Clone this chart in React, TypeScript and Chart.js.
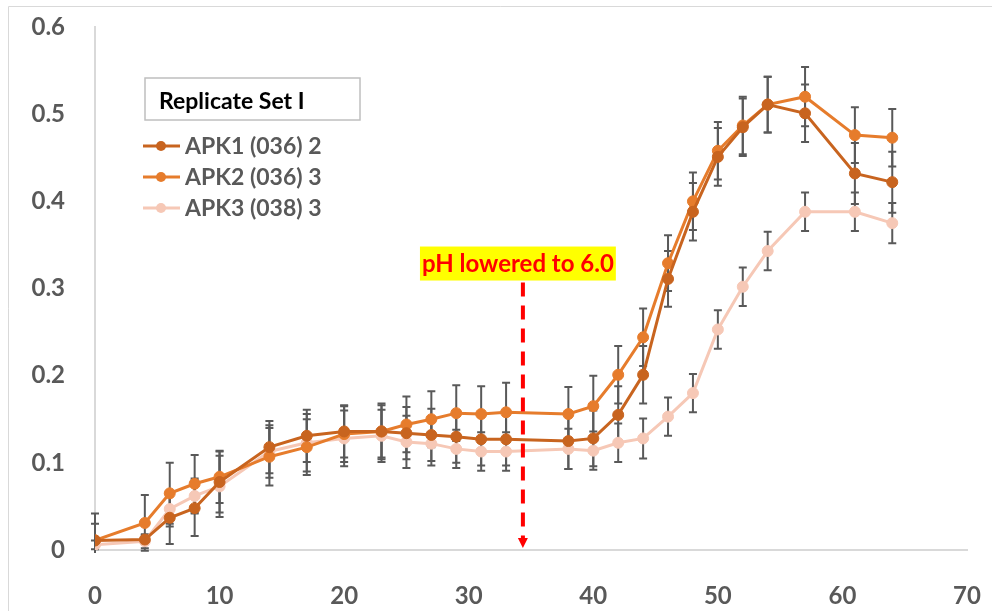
import React, { useEffect, useRef } from "react";
import { Chart, registerables } from "chart.js";

Chart.register(...registerables);

const times = [0, 4, 6, 8, 10, 14, 17, 20, 23, 25, 27, 29, 31, 33, 38, 40, 42, 44, 46, 48, 50, 52, 54, 57, 61, 64];
const apk1 = [0.011, 0.012, 0.037, 0.048, 0.078, 0.118, 0.131, 0.136, 0.136, 0.134, 0.132, 0.130, 0.127, 0.127, 0.125, 0.128, 0.155, 0.201, 0.311, 0.388, 0.451, 0.485, 0.511, 0.501, 0.432, 0.422];
const apk2 = [0.011, 0.031, 0.065, 0.076, 0.084, 0.107, 0.118, 0.133, 0.136, 0.144, 0.150, 0.157, 0.156, 0.158, 0.156, 0.165, 0.201, 0.244, 0.329, 0.400, 0.458, 0.487, 0.511, 0.520, 0.476, 0.473];
const apk3 = [0.006, 0.010, 0.047, 0.062, 0.073, 0.113, 0.123, 0.128, 0.131, 0.124, 0.122, 0.116, 0.113, 0.113, 0.116, 0.114, 0.123, 0.128, 0.153, 0.180, 0.253, 0.302, 0.343, 0.388, 0.388, 0.375];
const apk1Err = [0.031, 0.005, 0.03, 0.032, 0.035, 0.03, 0.03, 0.03, 0.03, 0.03, 0.03, 0.03, 0.03, 0.03, 0.032, 0.032, 0.033, 0.033, 0.032, 0.033, 0.033, 0.033, 0.032, 0.033, 0.035, 0.035];
const apk2Err = [0.019, 0.032, 0.035, 0.033, 0.03, 0.033, 0.032, 0.032, 0.032, 0.032, 0.032, 0.032, 0.032, 0.034, 0.031, 0.035, 0.033, 0.033, 0.032, 0.033, 0.033, 0.033, 0.032, 0.034, 0.032, 0.033];
const apk3Err = [0.005, 0.008, 0.02, 0.02, 0.035, 0.03, 0.033, 0.032, 0.03, 0.03, 0.025, 0.022, 0.022, 0.022, 0.023, 0.022, 0.022, 0.023, 0.022, 0.022, 0.022, 0.022, 0.022, 0.022, 0.022, 0.023];

const seriesNames = ["APK1 (036) 2", "APK2 (036) 3", "APK3 (038) 3"];
const seriesColors = ["#C8641F", "#E67C2C", "#F6C8B6"];
const legendTitle = "Replicate Set I";
const annotationText = "pH lowered to 6.0";
const annotationX = 34.35;
const annotationTop = 0.308;

const xTicks = { min: 0, max: 70, step: 10 };
const yTicks = { min: 0, max: 0.6, step: 0.1 };

const FONT = "Lato, 'Open Sans', sans-serif";
const values = [apk1, apk2, apk3];
const errors = [apk1Err, apk2Err, apk3Err];

const errorBarPlugin = {
  id: "errorBars",
  beforeDatasetsDraw(chart: any) {
    const { ctx, scales, chartArea } = chart;
    const x = scales.x;
    const y = scales.y;
    ctx.save();
    ctx.beginPath();
    ctx.rect(0, chartArea.top - 10, chart.width, chartArea.bottom - chartArea.top + 13);
    ctx.clip();
    ctx.strokeStyle = "#595959";
    ctx.lineWidth = 2;
    values.forEach((vals, di) => {
      vals.forEach((v, i) => {
        const e = errors[di][i];
        const px = x.getPixelForValue(times[i]);
        const top = y.getPixelForValue(v + e);
        const bot = y.getPixelForValue(v - e);
        ctx.beginPath();
        ctx.moveTo(px, top);
        ctx.lineTo(px, bot);
        ctx.moveTo(px - 4, top);
        ctx.lineTo(px + 4, top);
        ctx.moveTo(px - 4, bot);
        ctx.lineTo(px + 4, bot);
        ctx.stroke();
      });
    });
    ctx.restore();
  },
};

const decorPlugin = {
  id: "decor",
  afterDraw(chart: any) {
    const { ctx, scales, chartArea } = chart;
    const x = scales.x;
    const y = scales.y;
    ctx.save();
    // outer frame
    ctx.strokeStyle = "#d9d9d9";
    ctx.lineWidth = 1;
    ctx.beginPath();
    ctx.moveTo(8.5, chart.height);
    ctx.lineTo(8.5, 6.5);
    ctx.lineTo(chart.width, 6.5);
    ctx.stroke();

    // legend title box
    const L = chartArea.left;
    const T = chartArea.top;
    ctx.strokeStyle = "#bfbfbf";
    ctx.lineWidth = 1.5;
    ctx.fillStyle = "#ffffff";
    ctx.fillRect(L + 50, T + 51, 215, 42);
    ctx.strokeRect(L + 50, T + 51, 215, 42);
    ctx.fillStyle = "#000000";
    ctx.font = `bold 23px ${FONT}`;
    ctx.textBaseline = "middle";
    ctx.textAlign = "left";
    ctx.fillText(legendTitle, L + 64, T + 75);

    // legend entries
    seriesNames.forEach((name, i) => {
      const cy = T + 119 + i * 31;
      ctx.strokeStyle = seriesColors[i];
      ctx.lineWidth = 3;
      ctx.beginPath();
      ctx.moveTo(L + 48, cy);
      ctx.lineTo(L + 85, cy);
      ctx.stroke();
      ctx.fillStyle = seriesColors[i];
      ctx.beginPath();
      ctx.arc(L + 66, cy, 5, 0, Math.PI * 2);
      ctx.fill();
      ctx.fillStyle = "#595959";
      ctx.font = `bold 23px ${FONT}`;
      ctx.fillText(name, L + 90, cy + 1);
    });

    // annotation
    const ax = x.getPixelForValue(annotationX);
    const ay = y.getPixelForValue(annotationTop);
    const ay0 = y.getPixelForValue(0);
    ctx.font = `bold 24px ${FONT}`;
    const tw = ctx.measureText(annotationText).width;
    const cx = ax - 5;
    ctx.fillStyle = "#ffff00";
    ctx.fillRect(cx - tw / 2 - 2, ay - 35, tw + 4, 34);
    ctx.fillStyle = "#ff0000";
    ctx.textAlign = "center";
    ctx.fillText(annotationText, cx, ay - 17);

    ctx.strokeStyle = "#ff0000";
    ctx.lineWidth = 4;
    ctx.setLineDash([14, 9]);
    ctx.beginPath();
    ctx.moveTo(ax, ay + 1);
    ctx.lineTo(ax, ay0 - 10);
    ctx.stroke();
    ctx.setLineDash([]);
    ctx.fillStyle = "#ff0000";
    ctx.beginPath();
    ctx.moveTo(ax - 5, ay0 - 12);
    ctx.lineTo(ax + 5, ay0 - 12);
    ctx.lineTo(ax, ay0 - 2);
    ctx.closePath();
    ctx.fill();
    ctx.restore();
  },
};

export default function App() {
  const ref = useRef<HTMLCanvasElement | null>(null);
  useEffect(() => {
    if (!ref.current) return;
    const chart = new Chart(ref.current, {
      type: "line",
      data: {
        datasets: values.map((vals, i) => ({
          label: seriesNames[i],
          data: vals.map((v, j) => ({ x: times[j], y: v })),
          borderColor: seriesColors[i],
          backgroundColor: seriesColors[i],
          pointBackgroundColor: seriesColors[i],
          pointBorderColor: seriesColors[i],
          borderWidth: 3,
          pointRadius: 5.5,
          pointBorderWidth: 1,
          tension: 0,
        })),
      },
      options: {
        responsive: false,
        animation: false,
        layout: { padding: { top: 27, right: 25, left: 0, bottom: 0 } },
        plugins: { legend: { display: false }, tooltip: { enabled: false } },
        scales: {
          x: {
            type: "linear",
            min: xTicks.min,
            max: xTicks.max,
            ticks: {
              stepSize: xTicks.step,
              color: "#595959",
              font: { family: FONT, size: 24, weight: "bold" },
              padding: 32,
            },
            grid: { display: true, color: "transparent", drawTicks: false },
            border: { display: true, color: "#d9d9d9", width: 2 },
            afterFit: (s: any) => {
              s.height = 61;
              s.paddingLeft = 0;
              s.paddingRight = 0;
            },
          },
          y: {
            min: yTicks.min,
            max: yTicks.max,
            ticks: {
              stepSize: yTicks.step,
              color: "#595959",
              font: { family: FONT, size: 24, weight: "bold" },
              padding: 30,
              callback: (v: any) => (Math.round(v * 10) / 10).toString(),
            },
            grid: { display: true, color: "transparent", drawTicks: false },
            border: { display: true, color: "#d9d9d9", width: 2 },
            afterFit: (s: any) => {
              s.width = 95;
              s.paddingTop = 0;
              s.paddingBottom = 0;
            },
          },
        },
      },
      plugins: [errorBarPlugin, decorPlugin],
    } as any);
    return () => chart.destroy();
  }, []);
  return (
    <div style={{ position: "absolute", left: 0, top: 0, width: 992, height: 611, background: "#fff" }}>
      <canvas ref={ref} width={992} height={611} style={{ display: "block" }} />
    </div>
  );
}
